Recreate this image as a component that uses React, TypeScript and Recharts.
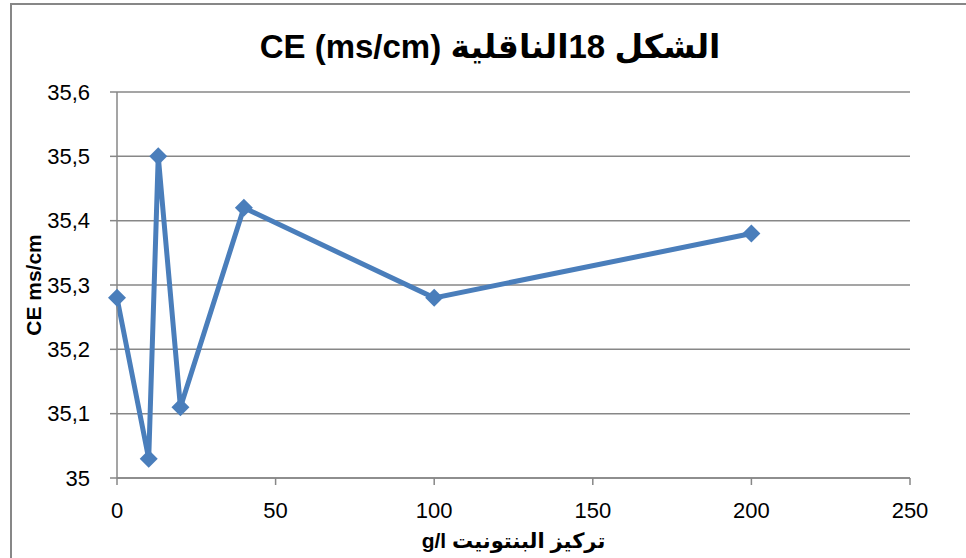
import React from "react";
import { CartesianGrid, Line, LineChart, XAxis, YAxis } from "recharts";

const concentrations = [0, 10, 13, 20, 40, 100, 200];
const conductivity = [35.28, 35.03, 35.5, 35.11, 35.42, 35.28, 35.38];
const xTicks = [0, 50, 100, 150, 200, 250];
const yTicks = [35, 35.1, 35.2, 35.3, 35.4, 35.5, 35.6];

const data = concentrations.map((x, i) => ({ x, ce: conductivity[i] }));

const AXIS_GRAY = "#878787";
const LINE_BLUE = "#4a7ebb";
const FONT = "'Liberation Sans', 'DejaVu Sans', sans-serif";

const formatY = (v: number) =>
  Number.isInteger(v) ? String(v) : v.toFixed(1).replace(".", ",");

function Diamond(props: any) {
  const { cx, cy } = props;
  if (cx == null || cy == null) return null;
  const r = 9;
  return (
    <polygon
      points={`${cx},${cy - r} ${cx + r},${cy} ${cx},${cy + r} ${cx - r},${cy}`}
      fill={LINE_BLUE}
    />
  );
}

export default function App() {
  return (
    <div
      style={{
        position: "fixed",
        left: 0,
        top: 0,
        width: 966,
        height: 558,
        background: "#fff",
        overflow: "hidden",
        fontFamily: FONT,
      }}
    >
      <div
        style={{
          position: "absolute",
          left: 10,
          top: 3,
          width: 2000,
          height: 2000,
          borderLeft: `2px solid ${AXIS_GRAY}`,
          borderTop: `2px solid ${AXIS_GRAY}`,
        }}
      />
      <div
        style={{
          position: "absolute",
          left: 0,
          top: 27,
          width: 980,
          textAlign: "center",
          fontSize: 33,
          fontWeight: "bold",
          direction: "ltr",
        }}
      >
        CE (ms/cm) الشكل 18الناقلية
      </div>
      <div style={{ position: "absolute", left: 0, top: 0 }}>
        <LineChart
          width={966}
          height={558}
          data={data}
          margin={{ top: 92, right: 56, bottom: 0, left: 0 }}
        >
          <CartesianGrid
            horizontal
            vertical={false}
            stroke={AXIS_GRAY}
            strokeWidth={1.5}
          />
          <XAxis
            dataKey="x"
            type="number"
            domain={[0, 250]}
            ticks={xTicks}
            height={80}
            stroke={AXIS_GRAY}
            strokeWidth={1.5}
            tickSize={7}
            tickMargin={17}
            tick={{ fill: "#000", fontSize: 22, fontFamily: FONT }}
            label={{
              value: "g/l تركيز البنتونيت",
              position: "insideBottom",
              offset: 10,
              fill: "#000",
              fontSize: 21,
              fontWeight: "bold",
              fontFamily: FONT,
            }}
          />
          <YAxis
            type="number"
            domain={[35, 35.6]}
            ticks={yTicks}
            width={117}
            stroke={AXIS_GRAY}
            strokeWidth={1.5}
            tickSize={7}
            tickMargin={20}
            tickFormatter={formatY}
            tick={{ fill: "#000", fontSize: 22, fontFamily: FONT }}
            label={{
              value: "CE ms/cm",
              angle: -90,
              position: "insideLeft",
              offset: 34,
              fill: "#000",
              fontSize: 21,
              fontWeight: "bold",
              fontFamily: FONT,
              style: { textAnchor: "middle" },
            }}
          />
          <Line
            type="linear"
            dataKey="ce"
            stroke={LINE_BLUE}
            strokeWidth={5}
            dot={<Diamond />}
            activeDot={false}
            isAnimationActive={false}
          />
        </LineChart>
      </div>
    </div>
  );
}
